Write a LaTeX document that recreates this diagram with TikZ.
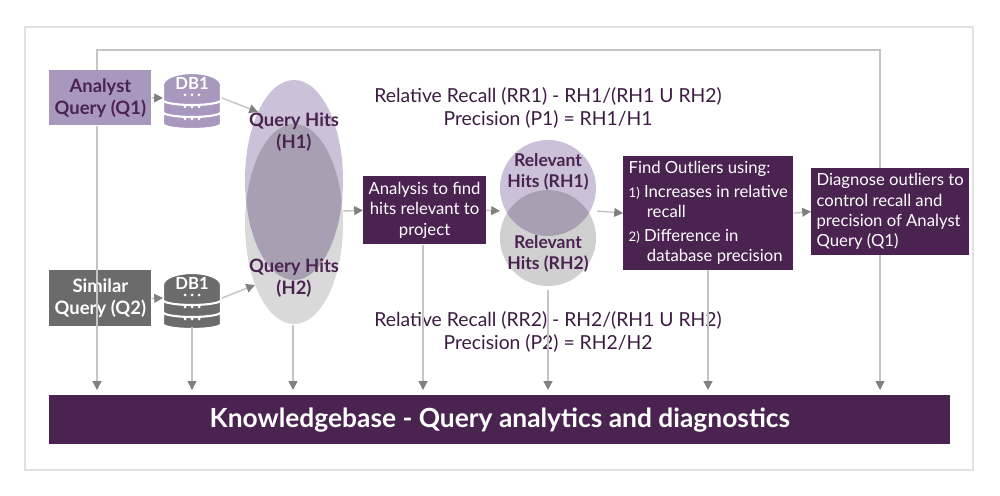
\documentclass[tikz,border=0pt]{standalone}
\usepackage{fontspec}
\setmainfont{Lato}
\usetikzlibrary{arrows.meta}
\definecolor{dp}{HTML}{4A2350}
\definecolor{lp}{HTML}{A898BE}
\definecolor{dg}{HTML}{6B6B6B}
\definecolor{ln}{HTML}{C4C4C4}
\definecolor{ar}{HTML}{808080}
\tikzset{
  conn/.style={draw=ln, line width=0.8pt, -{Triangle[length=5pt,width=5pt,fill=ar,color=ar]}},
  line/.style={draw=ln, line width=0.8pt},
  box/.style={rectangle, inner sep=3pt, font=\fontsize{9.5}{11.5}\selectfont},
  dbox/.style={box, fill=dp, text=white, anchor=north west},
  lbl/.style={font=\fontsize{11}{13}\selectfont, text=dp!80!black},
  pics/db/.style={code={
    \begin{scope}[x=0.02cm,y=0.02cm]
    \foreach \t/\b in {-16/-26,-4/-14}{
      \fill[#1, draw=white, line width=1.2pt] (-29,\t) -- (-29,\b) arc[start angle=180,end angle=360,x radius=29,y radius=5] -- (29,\t) arc[start angle=0,end angle=180,x radius=29,y radius=5] -- cycle;}
    \fill[#1, draw=white, line width=1.2pt] (-29,13) -- (-29,-2) arc[start angle=180,end angle=360,x radius=29,y radius=5] -- (29,13) arc[start angle=0,end angle=180,x radius=29,y radius=12] -- cycle;
    \node[text=white,font=\fontsize{9.5}{11}\selectfont\bfseries] at (0,15) {DB1};
    \foreach \y in {3,-9,-21} \foreach \x in {-7,0,7} \fill[white] (\x,\y) circle[radius=1.5];
    \end{scope}}}
}
\begin{document}
\begin{tikzpicture}[x=0.02cm,y=-0.02cm]
\useasboundingbox (0,0) rectangle (1000,496);
\draw[ln!50, line width=0.6pt] (25,27) rectangle (973,470);
% top frame line
\coordinate (tl) at (97,50); \coordinate (tr) at (880,50);
\draw[line] (97,70) -- (tl) -- (tr) -- (880,168);
% bottom bar
\node[fill=dp, text=white, minimum width=901*0.02cm, minimum height=49*0.02cm, anchor=north west, font=\fontsize{15}{17}\selectfont\bfseries] (kb) at (49,395) {Knowledgebase - Query analytics and diagnostics};
% ellipses
\fill[lp!60] (294,180) ellipse[x radius=49, y radius=100];
\fill[ln!80, opacity=0.8] (294,224) ellipse[x radius=49, y radius=100];
\begin{scope}
\clip (294,180) ellipse[x radius=49, y radius=100];
\fill[ar!40!lp!85] (294,224) ellipse[x radius=49, y radius=100];
\end{scope}
\node[font=\fontsize{10.5}{12.5}\selectfont\bfseries, text=dp, align=center] (h1) at (294,132) {Query Hits\\(H1)};
\node[font=\fontsize{10.5}{12.5}\selectfont\bfseries, text=dp, align=center] (h2) at (294,278) {Query Hits\\(H2)};
\coordinate (ell) at (343,211);
% circles
\fill[lp!60] (548,188) circle[radius=48];
\fill[ln!80] (548,238) circle[radius=48];
\begin{scope}
\clip (548,188) circle[radius=48];
\fill[ar!40!lp!85] (548,238) circle[radius=48];
\end{scope}
\node[font=\fontsize{10}{12}\selectfont\bfseries, text=dp, align=center] (rh1) at (548,172) {Relevant\\Hits (RH1)};
\node[font=\fontsize{10}{12}\selectfont\bfseries, text=dp, align=center] (rh2) at (548,254) {Relevant\\Hits (RH2)};
\coordinate (cl) at (500,211); \coordinate (cr) at (597,211);
% boxes
\node[box, fill=lp, text=dp, minimum width=94*0.02cm, minimum height=55*0.02cm, align=center, anchor=north west, font=\fontsize{10.5}{12.5}\selectfont\bfseries] (q1) at (49,70) {Analyst\\Query (Q1)};
\node[box, fill=dg, text=white, minimum width=94*0.02cm, minimum height=56*0.02cm, align=center, anchor=north west, font=\fontsize{10.5}{12.5}\selectfont\bfseries] (q2) at (49,270) {Similar\\Query (Q2)};
\pic (db1) at (192,98) {db=lp};
\pic (db2) at (192,298) {db=dg};
\coordinate (db1r) at (222,98); \coordinate (db2r) at (222,298);
\coordinate (db1l) at (163,98); \coordinate (db2l) at (163,298);
\node[dbox, minimum width=89*0.02cm, minimum height=68*0.02cm, align=center] (an) at (363,176) {Analysis to find\\hits relevant to\\project};
\node[dbox, minimum width=167*0.02cm, minimum height=111*0.02cm, align=left] (fo) at (623,156) {Find Outliers using:\\[2pt]
{\fontsize{7.5}{9}\selectfont 1)} Increases in relative\\\hspace*{1.1em}recall\\[2pt]
{\fontsize{7.5}{9}\selectfont 2)} Difference in\\\hspace*{1.1em}database precision};
\node[dbox, minimum width=141*0.02cm, minimum height=86*0.02cm, align=left] (dg) at (811,168) {Diagnose outliers to\\control recall and\\precision of Analyst\\Query (Q1)};
% labels
\node[lbl, align=center] (t1) at (548,108) {Relative Recall (RR1) - RH1/(RH1 U RH2)\\Precision (P1) = RH1/H1};
\node[lbl, align=center] (t2) at (548,332) {Relative Recall (RR2) - RH2/(RH1 U RH2)\\Precision (P2) = RH2/H2};
% horizontal connectors
\draw[conn] (q1.east) -- (db1l);
\draw[conn] (q2.east) -- (db2l);
\draw[conn] (db1r) -- (258,112);
\draw[conn] (db2r) -- (255,285);
\draw[conn] (ell) -- (an.west);
\draw[conn] (an.east) -- (cl);
\draw[conn] (cr) -- (fo.west);
\draw[conn] (fo.east) -- (dg.west);
% vertical connectors
\draw[conn] (q1.south -| 97,0) -- (97,390);
\draw[conn] (192,327) -- (192,390);
\draw[conn] (293,325) -- (293,390);
\draw[conn] (an.south -| 423,0) -- (423,390);
\draw[conn] (548,290) -- (548,390);
\draw[conn] (fo.south -| 708,0) -- (708,390);
\draw[conn] (dg.south -| 880,0) -- (880,390);
\end{tikzpicture}
\end{document}
